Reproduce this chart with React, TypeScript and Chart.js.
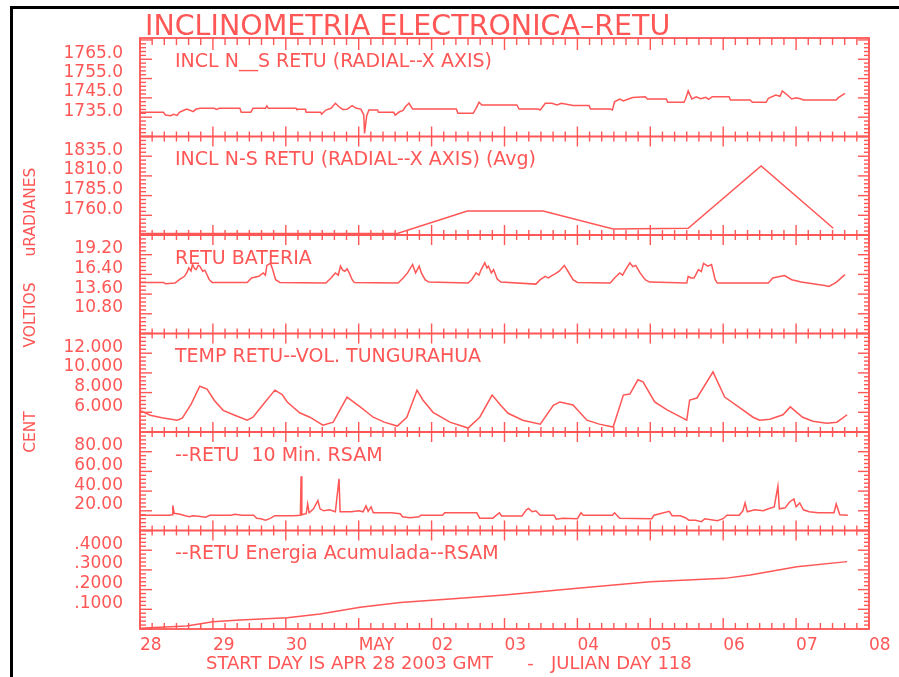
import React, { useEffect, useRef } from 'react';
import { Chart, registerables } from 'chart.js';
Chart.register(...registerables);

const RED = '#ff5656';
const FONT = '"DejaVu Sans", sans-serif';

const TITLE = 'INCLINOMETRIA ELECTRONICA\u2013RETU';
const FOOTER = 'START DAY IS APR 28 2003 GMT      -   JULIAN DAY 118';
const X_LABELS = ['28', '29', '30', 'MAY', '02', '03', '04', '05', '06', '07', '08'];

// Panel 1: INCL N__S RETU
const P1_T = [0, 0.32, 0.35, 0.42, 0.46, 0.51, 0.54, 0.61, 0.64, 0.69, 0.73, 0.77, 0.83, 1.02, 1.05, 1.09, 1.37, 1.39, 1.52, 1.55, 1.72, 1.74, 1.76, 2.14, 2.15, 2.27, 2.28, 2.48, 2.49, 2.55, 2.62, 2.68, 2.73, 2.78, 2.84, 2.91, 2.97, 3.03, 3.07, 3.08, 3.11, 3.14, 3.26, 3.27, 3.48, 3.5, 3.56, 3.61, 3.64, 3.69, 3.74, 3.83, 4.34, 4.36, 4.57, 4.61, 4.65, 4.69, 5.17, 5.2, 5.46, 5.49, 5.56, 5.65, 5.72, 5.78, 5.94, 6.16, 6.18, 6.45, 6.48, 6.51, 6.58, 6.63, 6.7, 6.76, 6.93, 6.96, 7.22, 7.24, 7.46, 7.48, 7.52, 7.57, 7.63, 7.69, 7.76, 7.8, 7.85, 8.08, 8.1, 8.37, 8.4, 8.59, 8.62, 8.72, 8.78, 8.81, 8.88, 8.94, 9.0, 9.07, 9.1, 9.55, 9.58, 9.67];
const P1_V = [1737.5, 1737.5, 1736.1, 1735.8, 1736.5, 1735.9, 1737.5, 1738.7, 1739.2, 1738.5, 1737.9, 1739.2, 1739.6, 1739.6, 1739.0, 1739.6, 1739.6, 1737.5, 1737.5, 1739.6, 1739.6, 1740.8, 1739.6, 1739.6, 1739.1, 1739.1, 1737.5, 1737.5, 1736.5, 1738.7, 1739.6, 1742.2, 1740.4, 1739.0, 1739.1, 1741.0, 1739.6, 1739.2, 1736.1, 1726.6, 1735.8, 1738.7, 1738.7, 1737.5, 1737.5, 1736.1, 1737.8, 1738.5, 1740.4, 1742.2, 1739.2, 1739.2, 1739.2, 1737.0, 1737.0, 1739.6, 1742.7, 1741.3, 1741.3, 1739.2, 1739.2, 1738.7, 1742.2, 1742.2, 1741.3, 1742.2, 1741.0, 1741.0, 1739.2, 1739.2, 1738.7, 1743.0, 1744.4, 1743.4, 1744.4, 1745.2, 1745.6, 1744.4, 1744.4, 1742.7, 1742.7, 1744.0, 1748.6, 1744.4, 1745.5, 1744.6, 1745.3, 1744.2, 1745.6, 1745.6, 1743.9, 1743.9, 1742.7, 1742.7, 1744.8, 1746.5, 1745.8, 1748.6, 1746.5, 1744.4, 1745.0, 1744.4, 1743.9, 1743.9, 1745.1, 1747.3];
const P1_TICKS = [1735, 1745, 1755, 1765];
const P1_LABELS = ['1735.0', '1745.0', '1755.0', '1765.0'];

// Panel 2: INCL N-S RETU (Avg)
const P2_T = [0, 3.53, 4.49, 5.53, 6.49, 7.52, 8.52, 9.51];
const P2_V = [1737, 1737, 1765.5, 1765.5, 1742.6, 1743.5, 1822.6, 1743.5];
const P2_TICKS = [1760, 1785, 1810, 1835];
const P2_LABELS = ['1760.0', '1785.0', '1810.0', '1835.0'];

// Panel 3: RETU BATERIA
const P3_T = [0, 0.32, 0.35, 0.48, 0.54, 0.61, 0.64, 0.67, 0.7, 0.72, 0.75, 0.77, 0.8, 0.82, 0.86, 0.89, 0.95, 0.99, 1.47, 1.53, 1.63, 1.69, 1.72, 1.74, 1.79, 1.82, 1.86, 1.92, 2.55, 2.62, 2.68, 2.72, 2.75, 2.78, 2.81, 2.84, 2.87, 2.91, 2.94, 3.54, 3.61, 3.67, 3.74, 3.78, 3.83, 3.86, 3.91, 3.96, 4.5, 4.55, 4.61, 4.65, 4.68, 4.73, 4.76, 4.78, 4.82, 4.85, 4.9, 4.95, 5.43, 5.49, 5.56, 5.6, 5.65, 5.7, 5.75, 5.82, 5.87, 5.94, 6.0, 6.45, 6.51, 6.58, 6.62, 6.65, 6.72, 6.76, 6.8, 6.86, 6.93, 6.99, 7.5, 7.52, 7.56, 7.6, 7.66, 7.7, 7.73, 7.79, 7.84, 7.89, 7.92, 8.62, 8.68, 8.84, 8.94, 9.07, 9.39, 9.45, 9.55, 9.67];
const P3_V = [15.26, 15.26, 15.07, 15.17, 15.65, 16.13, 16.6, 17.33, 16.9, 17.81, 17.2, 17.09, 17.7, 17.57, 16.85, 17.0, 15.65, 15.26, 15.26, 15.89, 16.13, 16.61, 16.3, 17.67, 17.96, 17.09, 15.65, 15.26, 15.17, 15.89, 16.61, 16.3, 17.57, 17.0, 16.85, 17.2, 16.61, 15.65, 15.26, 15.17, 15.89, 16.61, 17.81, 16.61, 17.57, 16.61, 15.65, 15.31, 15.17, 15.65, 16.61, 16.3, 17.09, 18.05, 17.3, 17.57, 16.61, 17.09, 15.74, 15.31, 15.02, 15.65, 16.13, 15.9, 16.23, 16.5, 16.85, 17.67, 16.85, 15.65, 15.26, 15.17, 15.89, 16.61, 16.3, 16.85, 18.05, 17.5, 17.67, 16.61, 15.65, 15.31, 15.17, 16.13, 15.9, 15.89, 17.09, 16.8, 17.96, 17.57, 17.81, 15.65, 15.17, 15.17, 15.89, 16.23, 15.65, 15.31, 14.83, 14.68, 15.26, 16.37];
const P3_TICKS = [10.8, 13.6, 16.4, 19.2];
const P3_LABELS = ['10.80', '13.60', '16.40', '19.20'];

// Panel 4: TEMP RETU
const P4_T = [0, 0.14, 0.3, 0.51, 0.58, 0.7, 0.82, 0.92, 1.02, 1.14, 1.3, 1.47, 1.55, 1.7, 1.85, 1.95, 2.02, 2.19, 2.33, 2.51, 2.65, 2.84, 3.02, 3.2, 3.35, 3.53, 3.66, 3.8, 3.88, 4.02, 4.25, 4.5, 4.66, 4.83, 4.95, 5.05, 5.25, 5.49, 5.67, 5.76, 5.94, 6.13, 6.3, 6.49, 6.63, 6.72, 6.83, 6.9, 7.06, 7.23, 7.5, 7.54, 7.64, 7.86, 8.02, 8.23, 8.41, 8.5, 8.64, 8.82, 8.92, 9.09, 9.23, 9.42, 9.56, 9.7];
const P4_V = [6.2, 5.7, 5.45, 5.2, 5.4, 6.8, 8.65, 8.35, 7.2, 6.2, 5.7, 5.2, 5.5, 6.9, 8.25, 7.8, 7.05, 5.95, 5.5, 4.7, 5.0, 7.55, 6.55, 5.5, 5.0, 4.6, 5.5, 8.25, 7.25, 6.0, 5.0, 4.4, 5.5, 7.75, 6.7, 5.9, 5.2, 4.8, 6.7, 7.05, 6.75, 5.2, 4.8, 4.5, 7.75, 7.85, 9.3, 9.1, 7.05, 6.25, 5.2, 7.25, 7.45, 10.1, 7.55, 6.45, 5.5, 5.2, 5.3, 5.75, 6.55, 5.5, 5.1, 4.9, 5.0, 5.75];
const P4_TICKS = [6, 8, 10, 12];
const P4_LABELS = ['6.000', '8.000', '10.000', '12.000'];

// Panel 5: 10 Min. RSAM
const P5_T = [0, 0.4, 0.44, 0.45, 0.47, 0.55, 0.62, 0.68, 0.72, 0.8, 0.9, 0.96, 1.25, 1.3, 1.4, 1.56, 1.6, 1.66, 1.72, 1.78, 1.85, 2.1, 2.2, 2.21, 2.22, 2.28, 2.3, 2.32, 2.38, 2.44, 2.47, 2.52, 2.6, 2.68, 2.73, 2.745, 2.9, 3.0, 3.06, 3.1, 3.13, 3.17, 3.2, 3.45, 3.57, 3.6, 3.7, 3.83, 3.85, 4.15, 4.18, 4.4, 4.62, 4.66, 4.84, 4.93, 4.96, 5.24, 5.3, 5.33, 5.38, 5.43, 5.49, 5.68, 5.71, 5.8, 6.0, 6.05, 6.08, 6.48, 6.51, 6.58, 7.02, 7.05, 7.26, 7.3, 7.41, 7.48, 7.53, 7.62, 7.7, 7.75, 7.92, 8.0, 8.05, 8.22, 8.27, 8.3, 8.33, 8.43, 8.55, 8.62, 8.7, 8.75, 8.77, 8.85, 8.91, 8.97, 9.0, 9.05, 9.1, 9.18, 9.3, 9.52, 9.55, 9.6, 9.71];
const P5_V = [15.5, 15.5, 16, 25.5, 17.5, 16.5, 15, 14, 15, 14.5, 13.5, 15.5, 15.5, 16.5, 15.5, 15.5, 12.5, 12, 10.5, 12, 15, 15, 15.5, 55, 16, 17, 27, 18, 22, 30.5, 22, 20, 21, 19, 52.5, 19, 19, 20, 19, 25, 19.5, 24, 18, 18, 17, 14, 13, 14, 15.5, 15.5, 18, 18, 18, 12.5, 12.5, 18, 14.8, 14.8, 21, 22.5, 19, 20, 15.5, 15.5, 11.5, 12.5, 12, 18, 15.5, 15.5, 18, 12.5, 12, 15.5, 19.5, 15, 15, 13, 10.5, 10.5, 9, 12, 10, 12, 15.5, 15.5, 20, 28, 19, 21, 20, 22, 24, 45, 22, 23, 29, 32, 24, 28, 21, 19, 18, 18, 27, 16, 15.5];
const P5_TICKS = [20, 40, 60, 80];
const P5_LABELS = ['20.00', '40.00', '60.00', '80.00'];

// Panel 6: Energia Acumulada
const P6_T = [0, 0.27, 0.64, 1.0, 1.37, 2.02, 2.47, 3.02, 3.57, 4.25, 5.0, 6.0, 7.0, 8.02, 8.37, 9.01, 9.7];
const P6_V = [0.004, 0.009, 0.015, 0.037, 0.046, 0.057, 0.076, 0.11, 0.134, 0.152, 0.173, 0.207, 0.24, 0.257, 0.274, 0.316, 0.342];
const P6_TICKS = [0.1, 0.2, 0.3, 0.4];
const P6_LABELS = ['.1000', '.2000', '.3000', '.4000'];

const PANELS = [
  { id: 'y1', min: 1725, max: 1776, t: P1_T, v: P1_V, ticks: P1_TICKS, labels: P1_LABELS, title: 'INCL N__S RETU (RADIAL--X AXIS)' },
  { id: 'y2', min: 1735, max: 1860, t: P2_T, v: P2_V, ticks: P2_TICKS, labels: P2_LABELS, title: 'INCL N-S RETU (RADIAL--X AXIS) (Avg)' },
  { id: 'y3', min: 8, max: 22, t: P3_T, v: P3_V, ticks: P3_TICKS, labels: P3_LABELS, title: 'RETU BATERIA' },
  { id: 'y4', min: 4, max: 14, t: P4_T, v: P4_V, ticks: P4_TICKS, labels: P4_LABELS, title: 'TEMP RETU--VOL. TUNGURAHUA' },
  { id: 'y5', min: 0, max: 100, t: P5_T, v: P5_V, ticks: P5_TICKS, labels: P5_LABELS, title: '--RETU  10 Min. RSAM' },
  { id: 'y6', min: 0, max: 0.5, t: P6_T, v: P6_V, ticks: P6_TICKS, labels: P6_LABELS, title: '--RETU Energia Acumulada--RSAM' },
];

const SIDE_LABELS = ['uRADIANES', 'VOLTIOS', 'CENT'];

const decorPlugin = {
  id: 'decor',
  afterDraw(chart: any) {
    const ctx = chart.ctx as CanvasRenderingContext2D;
    const area = chart.chartArea;
    const xs = chart.scales.x;
    ctx.save();
    ctx.strokeStyle = RED;
    ctx.fillStyle = RED;
    ctx.lineWidth = 1.8;
    ctx.lineCap = 'butt';
    const line = (x1: number, y1: number, x2: number, y2: number) => {
      ctx.beginPath();
      ctx.moveTo(x1, y1);
      ctx.lineTo(x2, y2);
      ctx.stroke();
    };
    ctx.strokeRect(area.left, area.top, area.right - area.left, area.bottom - area.top);
    const scales = PANELS.map((p) => chart.scales[p.id]);
    for (let i = 0; i < scales.length - 1; i++) {
      line(area.left, scales[i].bottom, area.right, scales[i].bottom);
    }
    ctx.lineWidth = 1.4;
    for (let k = 0; k <= 60; k++) {
      const x = xs.getPixelForValue(k / 6);
      const major = k % 6 === 0;
      line(x, area.top, x, area.top + (major ? 12 : 7));
      line(x, area.bottom, x, area.bottom - (major ? 11 : 6));
      for (let i = 0; i < scales.length - 1; i++) {
        const yb = scales[i].bottom;
        const l = major ? 10 : 5;
        line(x, yb - l, x, yb + l);
      }
    }
    PANELS.forEach((p, i) => {
      const s = scales[i];
      const step = p.ticks[1] - p.ticks[0];
      const minor = step / 5;
      const base = p.ticks[0];
      const n0 = Math.ceil((p.min - base) / minor - 1e-6);
      const n1 = Math.floor((p.max - base) / minor + 1e-6);
      for (let n = n0; n <= n1; n++) {
        const y = s.getPixelForValue(base + n * minor);
        const major = ((n % 5) + 5) % 5 === 0;
        line(area.left, y, area.left + (major ? 12 : 6), y);
        line(area.right, y, area.right - (major ? 11 : 5), y);
      }
    });
    ctx.textAlign = 'left';
    ctx.textBaseline = 'alphabetic';
    ctx.font = `28.5px ${FONT}`;
    ctx.fillText(TITLE, 145, 35);
    ctx.font = `19px ${FONT}`;
    ctx.textBaseline = 'middle';
    PANELS.forEach((p, i) => {
      ctx.fillText(p.title, 175, scales[i].top + 24);
    });
    ctx.font = `18px ${FONT}`;
    ctx.textBaseline = 'alphabetic';
    ctx.fillText(FOOTER, 206, 669);
    ctx.font = `15.5px ${FONT}`;
    ctx.textAlign = 'center';
    ctx.textBaseline = 'middle';
    const sideY = [212, 315, 432];
    SIDE_LABELS.forEach((text, i) => {
      ctx.save();
      ctx.translate(31, sideY[i]);
      ctx.rotate(-Math.PI / 2);
      ctx.fillText(text, 0, 0);
      ctx.restore();
    });
    ctx.restore();
  },
};

export default function App() {
  const ref = useRef<HTMLCanvasElement>(null);
  useEffect(() => {
    const yScales: any = {};
    // Chart.js stacks left axes in reverse definition order, so define bottom panel first
    [...PANELS].reverse().forEach((p) => {
      yScales[p.id] = {
        type: 'linear',
        position: 'left',
        stack: 'panels',
        stackWeight: 1,
        min: p.min,
        max: p.max,
        grid: { display: false, drawTicks: false },
        border: { display: false },
        afterBuildTicks: (s: any) => {
          s.ticks = p.ticks.map((v) => ({ value: v }));
        },
        afterFit: (s: any) => {
          s.width = 140;
        },
        ticks: {
          color: RED,
          font: { family: FONT, size: 17 },
          padding: 17,
          labelOffset: -6,
          autoSkip: false,
          callback: (v: number) => {
            const idx = p.ticks.findIndex((t) => Math.abs(t - v) < 1e-9);
            return idx >= 0 ? p.labels[idx] : '';
          },
        },
      };
    });
    const chart = new Chart(ref.current as HTMLCanvasElement, {
      type: 'line',
      data: {
        datasets: PANELS.map((p) => ({
          label: p.title,
          yAxisID: p.id,
          xAxisID: 'x',
          data: p.t.map((t, i) => ({ x: t, y: p.v[i] })),
          borderColor: RED,
          borderWidth: 1.5,
          pointRadius: 0,
          tension: 0,
          fill: false,
        })),
      },
      options: {
        animation: false,
        responsive: false,
        layout: { padding: { left: 0, right: 30, top: 38, bottom: 0 } },
        plugins: { legend: { display: false }, tooltip: { enabled: false }, title: { display: false } },
        scales: {
          x: {
            type: 'linear',
            position: 'bottom',
            min: 0,
            max: 10,
            grid: { display: false, drawTicks: false },
            border: { display: false },
            afterFit: (s: any) => {
              s.height = 48;
            },
            ticks: {
              stepSize: 1,
              autoSkip: false,
              maxRotation: 0,
              minRotation: 0,
              align: 'start',
              color: RED,
              font: { family: FONT, size: 17 },
              padding: 6,
              callback: (v: number) => X_LABELS[Math.round(v)] ?? '',
            },
          },
          ...yScales,
        },
      },
      plugins: [decorPlugin],
    } as any);
    return () => chart.destroy();
  }, []);
  return (
    <div style={{ position: 'fixed', left: 0, top: 0, width: 899, height: 677, background: '#ffffff', overflow: 'hidden' }}>
      <canvas ref={ref} width={899} height={677} style={{ display: 'block', width: 899, height: 677 }} />
      <div style={{ position: 'absolute', left: 10, top: 6, width: 889, height: 3, background: '#000' }} />
      <div style={{ position: 'absolute', left: 10, top: 6, width: 3, height: 671, background: '#000' }} />
    </div>
  );
}
